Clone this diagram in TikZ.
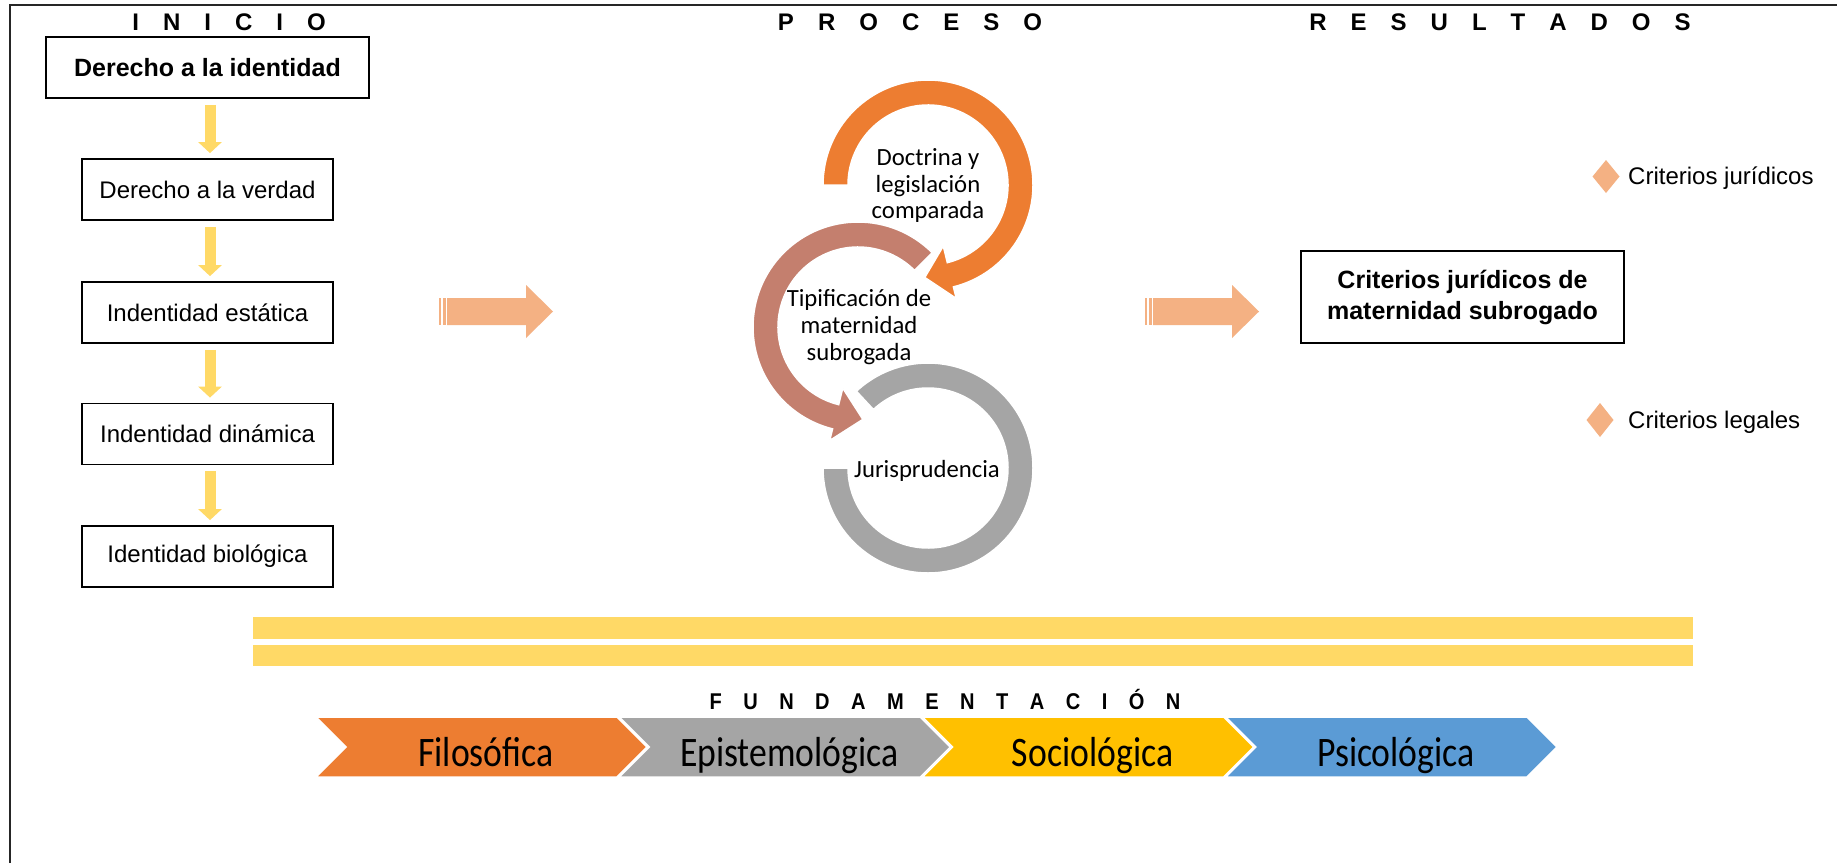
\documentclass[tikz,border=0pt]{standalone}
\usepackage{fontspec}
\setmainfont{Liberation Sans}
\newfontfamily\calibri{Carlito}
\usetikzlibrary{arrows.meta,calc}
\definecolor{orng}{HTML}{ED7D31}
\definecolor{pinkish}{HTML}{C47F6E}
\definecolor{gry}{HTML}{A5A5A5}
\definecolor{gold}{HTML}{FFC000}
\definecolor{blu}{HTML}{5B9BD5}
\definecolor{yel}{HTML}{FFD966}
\definecolor{peach}{HTML}{F4B183}
\newcommand{\gp}{\hspace{1em}}
\newcommand{\fg}{\hspace{1.07em}}
\newcommand{\ringarrow}[5]{%
  \fill[#5, draw=white, line width=1.5pt] ($#1+(#2:105)$) arc[start angle=#2, end angle=#3, radius=105]
   -- ($#1+(#3:117)$) -- ($#1+(#4:92.5)$) -- ($#1+(#3:63)$) -- ($#1+(#3:80)$)
   arc[start angle=#3, end angle=#2, radius=80] -- cycle;}
\newcommand{\stripearrow}[1]{%
  \fill[peach] (#1+8,-298) -- (#1+87,-298) -- (#1+87,-285) -- (#1+114,-311.5) -- (#1+87,-338) -- (#1+87,-325) -- (#1+8,-325) -- cycle;
  \fill[peach] (#1,-298) rectangle (#1+2,-325);
  \fill[peach] (#1+3.5,-298) rectangle (#1+6.5,-325);}
\begin{document}
\begin{tikzpicture}[x=1pt,y=1pt,
  hdr/.style={anchor=base, inner sep=0pt, font=\fontsize{24}{28}\selectfont\bfseries},
  box/.style={draw=black, line width=1.8pt, inner sep=0pt, minimum width=251pt, minimum height=61pt, font=\fontsize{24}{28}\selectfont},
  yarrow/.style={draw=yel, line width=11pt, -{Triangle[width=23pt,length=11pt]}, shorten <=6pt, shorten >=5pt},
  circtxt/.style={anchor=base, inner sep=0pt, font=\calibri\fontsize{24.7}{27}\selectfont},
  chevtxt/.style={anchor=base, inner sep=0pt, font=\calibri\fontsize{42}{46}\selectfont},
  crit/.style={anchor=base west, inner sep=0pt, font=\fontsize{24}{28}\selectfont},
  diam/.style={fill=peach}
  ]
\useasboundingbox (0,0) rectangle (1837,-863);
\fill[white] (0,0) rectangle (1837,-863);
% frame
\draw[line width=1.5pt, black!85] (10,-863) -- (10,-5) -- (1837,-5);
% headers
\node[hdr] (hinicio) at (229,-30) {I\gp N\gp I\gp C\gp I\gp O};
\node[hdr] (hproceso) at (910,-30) {P\gp R\gp O\gp C\gp E\gp S\gp O};
\node[hdr] (hres) at (1500,-30) {R\gp E\gp S\gp U\gp L\gp T\gp A\gp D\gp O\gp S};
% left column
\node[box, minimum width=323pt, font=\fontsize{25}{28}\selectfont\bfseries] (b0) at (207.5,-67.5) {Derecho a la identidad};
\node[box] (b1) at (207.5,-189.5) {Derecho a la verdad};
\node[box] (b2) at (207.5,-312.5) {Indentidad estática};
\node[box] (b3) at (207.5,-434) {Indentidad dinámica};
\node[box] (b4) at (207.5,-556.5) {Identidad biológica};
\draw[yarrow] ([xshift=2.5pt]b0.south) -- ([xshift=2.5pt]b1.north);
\draw[yarrow] ([xshift=2.5pt]b1.south) -- ([xshift=2.5pt]b2.north);
\draw[yarrow] ([xshift=2.5pt]b2.south) -- ([xshift=2.5pt]b3.north);
\draw[yarrow] ([xshift=2.5pt]b3.south) -- ([xshift=2.5pt]b4.north);
% striped arrows
\stripearrow{439}
\stripearrow{1145}
% circular arrows
\fill[gry, draw=white, line width=1.5pt] ($(928,-468)+(180:105)$) arc[start angle=180, end angle=493, radius=105]
   -- ($(928,-468)+(493:80)$) arc[start angle=493, end angle=180, radius=80] -- cycle;
\ringarrow{(858,-327)}{45}{256}{273}{pinkish}
\ringarrow{(928,-185)}{180}{-76}{-92}{orng}
\node[circtxt] (d1) at (928,-165) {Doctrina y};
\node[circtxt] (d2) at (928,-192) {legislación};
\node[circtxt] (d3) at (928,-218) {comparada};
\node[circtxt] (t1) at (859,-306) {Tipificación de};
\node[circtxt] (t2) at (859,-333) {maternidad};
\node[circtxt] (t3) at (859,-360) {subrogada};
\node[circtxt] (j1) at (927,-477) {Jurisprudencia};
% results
\node[draw=black, line width=1.8pt, minimum width=323pt, minimum height=92pt, inner sep=0pt, align=center,
  font=\fontsize{25}{31}\selectfont\bfseries] (res) at (1462.5,-297) {Criterios jurídicos de\\maternidad subrogado};
\fill[diam] (1606,-160) -- (1619.5,-176.5) -- (1606,-193) -- (1592.5,-176.5) -- cycle;
\node[crit] (c1) at (1628,-184.5) {Criterios jurídicos};
\fill[diam] (1600,-403) -- (1613.5,-420) -- (1600,-437) -- (1586.5,-420) -- cycle;
\node[crit] (c2) at (1628,-428.5) {Criterios legales};
% yellow bars
\fill[yel] (253,-617) rectangle (1693,-639);
\fill[yel] (253,-645) rectangle (1693,-666);
% fundamentacion
\node[anchor=base, inner sep=0pt, font=\fontsize{22.8}{26}\selectfont\bfseries] (hfund) at (945,-709)
  {\scalebox{0.88}[1]{F\fg U\fg N\fg D\fg A\fg M\fg E\fg N\fg T\fg A\fg C\fg I\fg Ó\fg N}};
\foreach \k/\col/\txt in {0/orng/Filosófica,1/gry/Epistemológica,2/gold/Sociológica,3/blu/Psicológica}{
  \pgfmathsetmacro{\L}{316+303.3*\k}
  \fill[\col, draw=white, line width=1.5pt] (\L,-717) -- (\L+301,-717) -- (\L+331,-747) -- (\L+301,-777) -- (\L,-777) -- (\L+30,-747) -- cycle;
  \node[chevtxt] (ch\k) at (\L+170,-766) {\scalebox{0.85}[1]{\txt}};
}
\end{tikzpicture}
\end{document}
